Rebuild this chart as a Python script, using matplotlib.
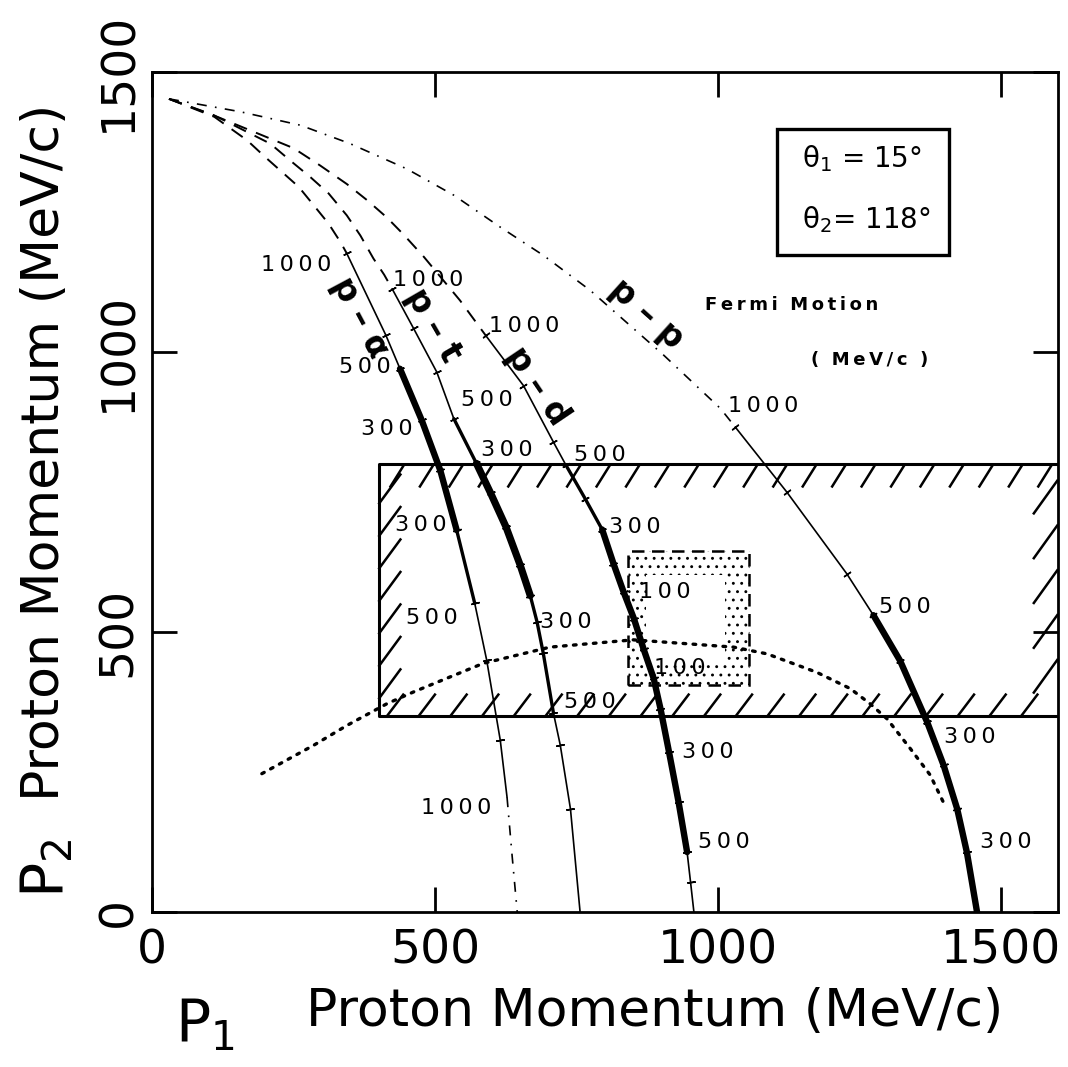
import numpy as np
import matplotlib
matplotlib.use("Agg")
import matplotlib.pyplot as plt
from matplotlib.patches import Rectangle
from matplotlib.collections import LineCollection
from matplotlib.markers import MarkerStyle

plt.rcParams['font.family'] = ['DejaVu Sans']
plt.rcParams['hatch.linewidth'] = 0.9

# ---------------- data (MeV/c) ----------------
# dashed parts of the kinematic curves (recoil momentum > 1000 MeV/c)
pa_dash_x = [30, 110, 168, 200, 259, 288, 312, 333, 344]
pa_dash_y = [1452, 1420, 1378, 1348, 1295, 1259, 1229, 1196, 1176]
pt_dash_x = [30, 109, 209, 244, 280, 312, 344, 368, 391, 410, 424]
pt_dash_y = [1452, 1423, 1372, 1342, 1312, 1283, 1244, 1208, 1167, 1138, 1113]
pd_dash_x = [30, 120, 250, 297, 344, 380, 415, 444, 480, 544, 589]
pd_dash_y = [1452, 1418, 1364, 1333, 1300, 1271, 1240, 1210, 1170, 1092, 1030]
pp_dash_x = [30, 156, 262, 350, 450, 533, 615, 692, 774, 904, 1004, 1030]
pp_dash_y = [1452, 1429, 1405, 1372, 1327, 1280, 1223, 1172, 1110, 994, 899, 866]

# solid parts
pa_x = [344, 413, 438, 476, 509, 538, 570, 591, 615, 627]
pa_y = [1176, 1030, 970, 879, 789, 682, 551, 450, 307, 205]
pa_tail_x = [627, 636, 645]
pa_tail_y = [205, 100, 0]
pt_x = [424, 462, 503, 533, 573, 598, 625, 650, 668, 680, 691, 709, 721, 739, 756]
pt_y = [1113, 1042, 964, 881, 801, 748, 688, 620, 565, 518, 462, 355, 298, 184, 0]
pd_x = [589, 656, 709, 731, 765, 795, 815, 833, 851, 868, 886, 898, 913, 930, 945, 951, 957]
pd_y = [1030, 940, 839, 798, 738, 683, 622, 571, 524, 470, 417, 363, 286, 196, 107, 54, 0]
pp_x = [1030, 1121, 1227, 1274, 1321, 1369, 1398, 1422, 1439, 1457]
pp_y = [866, 750, 604, 530, 449, 339, 262, 184, 107, 0]

# Fermi-motion boundary (dotted arc)
fm_x = [194, 286, 344, 415, 462, 527, 585, 703, 850, 1027, 1086, 1174, 1233, 1268, 1298, 1339, 1374, 1399]
fm_y = [247, 298, 333, 372, 393, 420, 444, 473, 486, 473, 461, 428, 399, 372, 345, 292, 245, 193]

# recoil (Fermi) momentum labels along curves
val_text = ["1000", "500", "300", "300", "500", "1000",
            "1000", "500", "300", "300", "500",
            "1000", "500", "300", "100", "100", "300", "500",
            "1000", "500", "300", "300"]
val_x = [254, 376, 415, 475, 494, 537,
         487, 592, 627, 731, 773,
         657, 791, 852, 905, 932, 982, 1010,
         1079, 1330, 1444, 1507]
val_y = [1155, 973, 862, 691, 525, 186,
         1129, 914, 825, 518, 375,
         1046, 816, 688, 571, 436, 286, 125,
         904, 545, 312, 125]

curve_names = ["p – α", "p – t", "p – d", "p – p"]
name_x = [367, 497, 681, 874]
name_y = [1062, 1048, 940, 1067]

# acceptance regions
accept_box = [400, 1600, 350, 800]     # x0, x1, y0, y1 (hatched)
stipple_box = [840, 1055, 405, 645]
xticks = [0, 500, 1000, 1500]
yticks = [0, 500, 1000, 1500]

# ---------------- figure ----------------
W, H = 1068, 1067
fig = plt.figure(figsize=(W / 100, H / 100), dpi=100)
ax = fig.add_axes([152 / W, 1 - 912 / H, (1058 - 152) / W, (912 - 72) / H])
ax.set_xlim(0, 1600)
ax.set_ylim(0, 1500)
for s in ax.spines.values():
    s.set_linewidth(2.0)

ax.set_xticks(xticks)
ax.set_xticklabels([str(v) for v in xticks])
ax.set_yticks(yticks)
ax.set_yticklabels([str(v) for v in yticks], rotation=90, va='center')
ax.tick_params(direction='in', length=18, width=2.0, top=True, right=True, labelsize=34)
ax.tick_params(axis='x', pad=12)
ax.tick_params(axis='y', pad=8)

# hatched acceptance frame
x0, x1, y0, y1 = accept_box
ax.plot([x1, x0, x0, x1], [y1, y1, y0, y0], color='k', lw=2.2, zorder=2)
segs = []
for xv in np.arange(x0 + 20, x1 - 20, 52):
    segs.append([(xv, y1 - 42), (xv + 26, y1)])
for xv in np.arange(x0 + 15, x1 - 30, 56):
    segs.append([(xv, y0), (xv + 30, y0 + 40)])
for yv in np.arange(y0 + 30, y1 - 50, 58):
    segs.append([(x0, yv), (x0 + 40, yv + 55)])
for yv in np.arange(y0 + 40, y1 - 40, 80):
    segs.append([(x1 - 44, yv), (x1, yv + 62)])
ax.add_collection(LineCollection(segs, colors='k', linewidths=1.8, zorder=2))

# stippled region
sx0, sx1, sy0, sy1 = stipple_box
ax.add_patch(Rectangle((sx0, sy0), sx1 - sx0, sy1 - sy0, fill=False, hatch='..',
                       edgecolor='k', lw=1.8, ls=(0, (5, 3)), zorder=1.5))
ax.add_patch(Rectangle((sx0 + 32, sy0 + 36), sx1 - sx0 - 75, sy1 - sy0 - 80,
                       facecolor='white', edgecolor='none', zorder=1.6))

# dashed parts
dash = (0, (7, 5))
for xs, ys in [(pa_dash_x, pa_dash_y), (pt_dash_x, pt_dash_y), (pd_dash_x, pd_dash_y)]:
    ax.plot(xs, ys, color='k', lw=1.4, ls=dash, zorder=3)
ax.plot(pp_dash_x, pp_dash_y, color='k', lw=1.2, ls=(0, (6, 5, 1, 5)), zorder=3)
ax.plot(pa_tail_x, pa_tail_y, color='k', lw=1.2, ls=(0, (6, 5, 1, 5)), zorder=3)

# solid parts with varying width
THIN, MED, THICK = 1.2, 2.4, 4.6
styles = {
    'pa': [(0, 2, THIN), (2, 5, THICK), (5, 6, MED), (6, 9, THIN)],
    'pt': [(0, 3, THIN), (3, 4, MED), (4, 8, THICK + 0.6), (8, 11, MED), (11, 14, THIN)],
    'pd': [(0, 3, THIN), (3, 5, MED), (5, 14, THICK), (14, 16, THIN)],
    'pp': [(0, 3, THIN), (3, 9, THICK)],
}
curves = {'pa': (pa_x, pa_y), 'pt': (pt_x, pt_y), 'pd': (pd_x, pd_y), 'pp': (pp_x, pp_y)}
for key, (xs, ys) in curves.items():
    for i0, i1, lw in styles[key]:
        ax.plot(xs[i0:i1 + 1], ys[i0:i1 + 1], color='k', lw=lw,
                solid_capstyle='round', solid_joinstyle='round', zorder=3)

# small perpendicular ticks on curves
fig.canvas.draw()
for key, (xs, ys) in curves.items():
    pts = ax.transData.transform(np.column_stack([xs, ys]))
    for i in range(len(xs) - 1):
        j0, j1 = max(i - 1, 0), min(i + 1, len(xs) - 1)
        d = pts[j1] - pts[j0]
        ang = np.degrees(np.arctan2(d[1], d[0]))
        ax.plot(xs[i], ys[i], marker=MarkerStyle((2, 2, ang)), ms=6, mew=1.1,
                color='k', zorder=3)

# Fermi-motion boundary
ax.plot(fm_x, fm_y, color='k', lw=2.4, ls=(0, (0.8, 2.2)), dash_capstyle='round', zorder=3)

# value labels
def spaced(s, sep='\u2009'):
    return sep.join(s)

for t, xv, yv in zip(val_text, val_x, val_y):
    ax.text(xv, yv, spaced(t), fontsize=16, ha='center', va='center', zorder=4)

angles = [-62, -60, -56, -42]
for t, xv, yv, a in zip(curve_names, name_x, name_y, angles):
    ax.text(xv, yv, t, fontsize=24, fontweight='bold', ha='center', va='center',
            rotation=a, rotation_mode='anchor', zorder=4)

# angle box
ax.add_patch(Rectangle((1104, 1173), 303, 225, fill=False, lw=2.4, zorder=4))
ax.text(1148, 1345, 'θ$_1$ = 15°', fontsize=20, ha='left', va='center', zorder=4)
ax.text(1148, 1237, 'θ$_2$= 118°', fontsize=20, ha='left', va='center', zorder=4)

ax.text(1130, 1084, spaced('Fermi') + '  ' + spaced('Motion'), fontsize=13,
        fontweight='bold', ha='center', va='center')
ax.text(1268, 986, '(  ' + spaced('MeV/c') + '  )', fontsize=13, fontweight='bold',
        ha='center', va='center')

# axis titles
fig.text(205 / W, 1 - 1025 / H, r'$\mathrm{P}_1$', fontsize=42, ha='center', va='center')
fig.text(655 / W, 1 - 1012 / H, 'Proton Momentum (MeV/c)', fontsize=37.5, ha='center', va='center')
fig.text(47 / W, 1 - 868 / H, r'$\mathrm{P}_2$', fontsize=42, ha='center', va='center', rotation=90)
fig.text(45 / W, 1 - 452 / H, 'Proton Momentum (MeV/c)', fontsize=37.5, ha='center', va='center', rotation=90)

fig.savefig('out.png', dpi=100, facecolor='white')
